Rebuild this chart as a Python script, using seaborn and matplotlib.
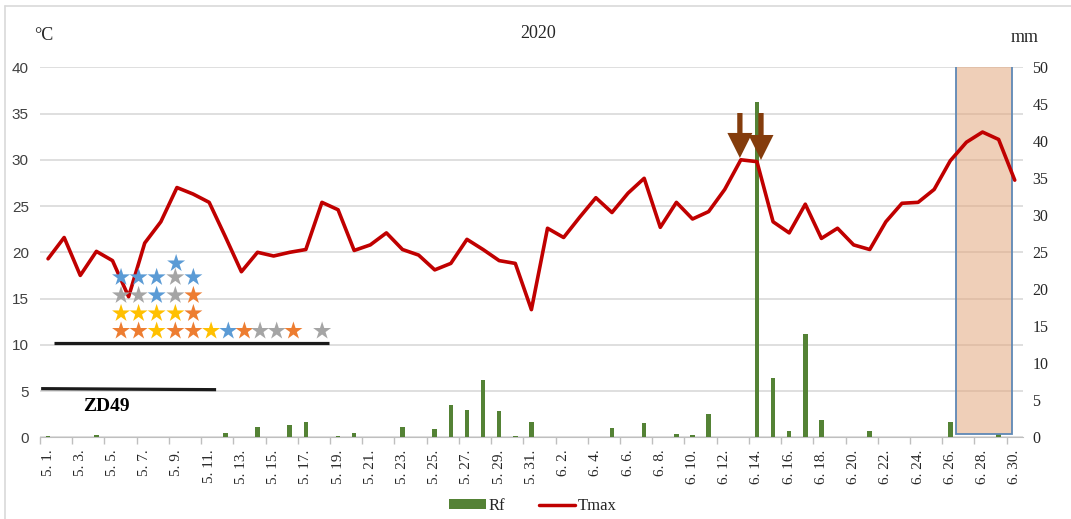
import numpy as np
import pandas as pd
import matplotlib
matplotlib.use("Agg")
import matplotlib.pyplot as plt
from matplotlib.patches import Rectangle, Patch
from matplotlib.lines import Line2D
import seaborn as sns

# ---------------- data ----------------
months = [5] * 31 + [6] * 30
days = list(range(1, 32)) + list(range(1, 31))
date_labels = [f"{m}. {d}." for m, d in zip(months, days)]

tmax = [19.3, 21.6, 17.5, 20.1, 19.1, 15.2, 21.0, 23.3, 27.0, 26.3,
        25.4, 21.7, 17.9, 20.0, 19.6, 20.0, 20.3, 25.4, 24.6, 20.2,
        20.8, 22.1, 20.3, 19.7, 18.1, 18.8, 21.4, 20.3, 19.1, 18.8,
        13.8,
        22.6, 21.6, 23.8, 25.9, 24.3, 26.4, 28.0, 22.7, 25.4, 23.6,
        24.4, 26.8, 30.0, 29.8, 23.3, 22.1, 25.2, 21.5, 22.6, 20.8,
        20.3, 23.3, 25.3, 25.4, 26.8, 29.9, 31.9, 33.0, 32.2, 27.8]

rf = [0.2, 0, 0, 0.3, 0, 0, 0, 0, 0, 0,
      0, 0.6, 0, 1.4, 0, 1.6, 2.1, 0, 0.2, 0.6,
      0, 0, 1.4, 0, 1.1, 4.3, 3.7, 7.7, 3.5, 0.2,
      2.1,
      0, 0, 0, 0, 1.3, 0, 1.9, 0, 0.4, 0.3,
      3.1, 0, 0, 45.3, 8.0, 0.9, 14.0, 2.3, 0, 0,
      0.9, 0, 0, 0, 0, 2.1, 0, 0, 0.5, 0]

left_ticks = [0, 5, 10, 15, 20, 25, 30, 35, 40]
right_ticks = [0, 5, 10, 15, 20, 25, 30, 35, 40, 45, 50]

# annotation stars (x in day-index units, y in degC)
star_x = [4.53, 5.62, 6.74, 7.90, 9.02, 10.12, 11.19, 12.19, 13.16, 14.19, 15.23, 17.01,
          4.53, 5.62, 6.74, 7.90, 9.02,
          4.53, 5.62, 6.74, 7.90, 9.02,
          4.53, 5.62, 6.74, 7.90, 9.02,
          7.95]
star_y = [11.5] * 12 + [13.4] * 5 + [15.35] * 5 + [17.3] * 5 + [18.8]
star_colors = ["#ED7D31", "#ED7D31", "#FFC000", "#ED7D31", "#ED7D31", "#FFC000",
               "#5B9BD5", "#ED7D31", "#A5A5A5", "#A5A5A5", "#ED7D31", "#A5A5A5",
               "#FFC000", "#FFC000", "#FFC000", "#FFC000", "#ED7D31",
               "#A5A5A5", "#A5A5A5", "#5B9BD5", "#A5A5A5", "#ED7D31",
               "#5B9BD5", "#5B9BD5", "#5B9BD5", "#A5A5A5", "#5B9BD5",
               "#5B9BD5"]

arrow_x = [42.94, 44.25]
arrow_top = [35.06, 35.06]
arrow_tip = [30.2, 29.98]

bar1_x = [0.39, 17.46]
bar1_y = [10.24, 10.24]
bar2_x = [-0.43, 10.43]
bar2_y = [5.26, 5.15]

shade_x = [56.36, 59.84]
shade_y = [0.32, 40.2]

# ---------------- style ----------------
sns.set_style("white")
plt.rcParams["font.family"] = ["Liberation Serif", "DejaVu Serif"]

GREEN = "#548235"
RED = "#C00000"
BROWN = "#843C0C"
GRID = "#D9D9D9"

idx = np.arange(len(tmax))
df = pd.DataFrame({"idx": idx, "label": date_labels, "tmax": tmax, "rf": rf})

fig = plt.figure(figsize=(10.71, 5.19), dpi=100)
ax = fig.add_axes([40 / 1071, (519 - 437.3) / 519, (1023.4 - 40.6) / 1071, 370 / 519])
ax2 = ax.twinx()
ax3 = ax.twinx()

# bars (right axis, mm)
sns.barplot(data=df, x="idx", y="rf", ax=ax2, native_scale=True, color=GREEN,
            width=0.28, saturation=1, edgecolor="none", zorder=2)

# shaded period
ax3.add_patch(Rectangle((shade_x[0], shade_y[0]), shade_x[1] - shade_x[0],
                        shade_y[1] - shade_y[0], facecolor="#E3A87E", alpha=0.55,
                        edgecolor="none", zorder=1))
ax3.add_patch(Rectangle((shade_x[0], shade_y[0]), shade_x[1] - shade_x[0],
                        shade_y[1] - shade_y[0], facecolor="none",
                        edgecolor="#5E88B5", linewidth=1.3, zorder=1.5))

# Tmax line
sns.lineplot(data=df, x="idx", y="tmax", ax=ax3, color=RED, linewidth=2.6, zorder=3)

# stars
ax3.scatter(star_x, star_y, marker="*", s=185, c=star_colors, linewidths=0, zorder=4)

# black lines + ZD49
ax3.plot(bar1_x, bar1_y, color="#1A1A1A", linewidth=2.3, zorder=4, solid_capstyle="butt")
ax3.plot(bar2_x, bar2_y, color="#1A1A1A", linewidth=2.3, zorder=4, solid_capstyle="butt")
ax3.text(3.62, 3.35, "ZD49", ha="center", va="center", fontsize=14, fontweight="bold",
         color="black", zorder=4)

# arrows
for xa, yt, yb in zip(arrow_x, arrow_top, arrow_tip):
    ax3.annotate("", xy=(xa, yb), xytext=(xa, yt),
                 arrowprops=dict(arrowstyle="simple,head_length=1.8,head_width=1.8,tail_width=0.38",
                                 mutation_scale=10, fc=BROWN, ec="none",
                                 shrinkA=0, shrinkB=0), zorder=5)

# ---------------- axes ----------------
ax.set_ylim(0, 40)
ax2.set_ylim(0, 50)
ax3.set_ylim(0, 40)
ax.set_xlim(-0.5, 60.5)

ax.set_yticks(left_ticks)
ax.yaxis.grid(True, color=GRID, linewidth=1.2)
ax.set_axisbelow(True)
ax.tick_params(axis="y", length=0, pad=8, labelsize=11, labelcolor="#404040")
for t in ax.get_yticklabels():
    t.set_fontfamily(["Liberation Sans", "DejaVu Sans"])

ax2.set_yticks(right_ticks)
ax2.tick_params(axis="y", length=0, pad=7, labelsize=11.5, labelcolor="#262626")
ax2.set_ylabel("")
ax2.set_xlabel("")
ax3.set_yticks([])
ax3.set_ylabel("")
ax3.set_xlabel("")
ax.set_xlabel("")
ax.set_ylabel("")

ax.set_xticks(idx[::2])
ax.set_xticklabels(date_labels[::2])
ax.set_xticks(np.arange(-0.5, 61, 2), minor=True)
ax.tick_params(axis="x", which="major", length=0, pad=9, labelsize=11,
               labelrotation=90, labelcolor="#262626")
ax.tick_params(axis="x", which="minor", length=5, color="#BFBFBF", width=1,
               direction="out", bottom=True)
ax.set_xlim(-0.5, 60.5)

for a in (ax, ax2, ax3):
    for s in ("left", "right", "top"):
        a.spines[s].set_visible(False)
ax.spines["bottom"].set_color("#BFBFBF")
ax2.spines["bottom"].set_visible(False)
ax3.spines["bottom"].set_visible(False)

# titles / units
fig.text(538 / 1071, 1 - 34 / 519, "2020", ha="center", va="center", fontsize=13)
fig.text(44 / 1071, 1 - 35 / 519, "°C", ha="center", va="center", fontsize=13)
fig.text(1025 / 1071, 1 - 38 / 519, "mm", ha="center", va="center", fontsize=13)

# legend
handles = [Patch(facecolor=GREEN, edgecolor="none"),
           Line2D([0], [0], color=RED, linewidth=2.5)]
fig.legend(handles, ["Rf", "Tmax"], loc="center", bbox_to_anchor=(533 / 1071, 1 - 506 / 519),
           ncol=2, frameon=False, fontsize=12, handlelength=2.2, handleheight=0.55,
           columnspacing=2.0, handletextpad=0.15)

# outer chart border
fig.add_artist(Line2D([5 / 1071, 1.0], [1 - 6 / 519, 1 - 6 / 519], color=GRID, linewidth=1.2,
                      transform=fig.transFigure))
fig.add_artist(Line2D([5 / 1071, 5 / 1071], [0, 1 - 6 / 519], color=GRID, linewidth=1.2,
                      transform=fig.transFigure))

fig.savefig("out.png", dpi=100, facecolor="white")
